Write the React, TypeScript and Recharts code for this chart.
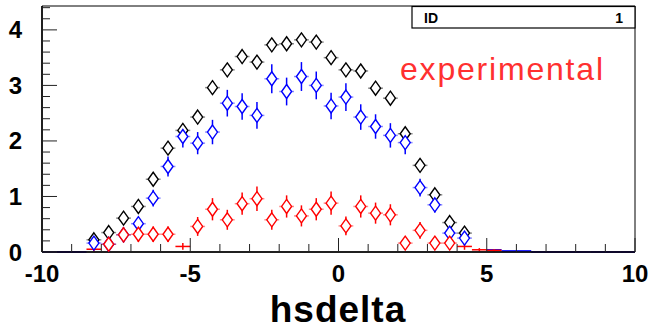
import { ErrorBar, ReferenceArea, Scatter, ScatterChart, XAxis, YAxis } from "recharts";

// bin centres, 0.5 wide
const binCentres = [
  -8.25, -7.75, -7.25, -6.75, -6.25, -5.75, -5.25, -4.75, -4.25, -3.75, -3.25, -2.75, -2.25,
  -1.75, -1.25, -0.75, -0.25, 0.25, 0.75, 1.25, 1.75, 2.25, 2.75, 3.25, 3.75, 4.25,
];
const blackValues = [
  0.22, 0.35, 0.61, 0.82, 1.31, 1.87, 2.19, 2.43, 2.96, 3.28, 3.52, 3.42, 3.73, 3.75, 3.82, 3.78,
  3.5, 3.28, 3.26, 2.95, 2.77, 2.13, 1.56, 1.03, 0.53, 0.34,
];
const blueValues = [
  0.16, 0.14, 0.31, 0.51, 0.97, 1.54, 2.08, 1.96, 2.16, 2.68, 2.62, 2.46, 3.12, 2.89, 3.16, 3.0,
  2.63, 2.79, 2.43, 2.26, 2.1, 1.97, 1.16, 0.85, 0.34, 0.25,
];
const blueErrors = [
  0.05, 0.05, 0.08, 0.1, 0.15, 0.18, 0.2, 0.2, 0.22, 0.24, 0.24, 0.24, 0.26, 0.25, 0.26, 0.25,
  0.24, 0.25, 0.23, 0.22, 0.22, 0.21, 0.16, 0.14, 0.08, 0.07,
];

const redCentres = [
  -7.75, -7.25, -6.75, -6.25, -5.75, -4.75, -4.25, -3.75, -3.25, -2.75, -2.25, -1.75, -1.25,
  -0.75, -0.25, 0.25, 0.75, 1.25, 1.75, 2.25, 2.75, 3.25, 3.75,
];
const redValues = [
  0.14, 0.31, 0.32, 0.32, 0.32, 0.46, 0.77, 0.58, 0.87, 0.96, 0.58, 0.82, 0.65, 0.77, 0.88, 0.47,
  0.82, 0.7, 0.67, 0.16, 0.39, 0.16, 0.16,
];
const redErrors = [
  0.1, 0.14, 0.14, 0.14, 0.14, 0.17, 0.2, 0.18, 0.2, 0.22, 0.18, 0.2, 0.19, 0.2, 0.21, 0.17, 0.2,
  0.19, 0.19, 0.1, 0.15, 0.1, 0.1,
];

// bins too low for a marker: only the error cross is drawn
const redLowCentres = [-8.25, -5.25, 4.25, 4.75, 5.25];
const redLowValues = [0.05, 0.1, 0.1, 0.04, 0.03];
const redLowErrors = [0.04, 0.06, 0.06, 0.03, 0.02];
const blueLowCentres = [5.25, 5.75, 6.25];
const blueLowValues = [0.04, 0.02, 0.02];

const emptyBins = [-9.75, -9.25, -8.75, 6.75, 7.25, 7.75, 8.25, 8.75, 9.25, 9.75];

const xTicks = [-10, -9, -8, -7, -6, -5, -4, -3, -2, -1, 0, 1, 2, 3, 4, 5, 6, 7, 8, 9, 10];
const yTicks = [
  0, 0.2, 0.4, 0.6, 0.8, 1, 1.2, 1.4, 1.6, 1.8, 2, 2.2, 2.4, 2.6, 2.8, 3, 3.2, 3.4, 3.6, 3.8, 4, 4.2,
  4.4,
];

const Y_MAX = 4.43;
const BIN_HALF = 0.25;
const FONT = "'Liberation Sans', Arial, sans-serif";

const points = (xs: number[], ys: number[], errs?: number[]) =>
  xs.map((x, i) => ({ x, y: ys[i], ey: errs ? errs[i] : 0, ex: BIN_HALF }));

const blackData = points(binCentres, blackValues);
const blueData = points(binCentres, blueValues, blueErrors);
const redData = points(redCentres, redValues, redErrors);
const redLowData = points(redLowCentres, redLowValues, redLowErrors);
const blueLowData = points(blueLowCentres, blueLowValues);
const emptyData = emptyBins.map((x) => ({ x, y: 0, ex: BIN_HALF }));

const diamond = (color: string) => (props: any) => {
  const { cx, cy } = props;
  if (cx == null || cy == null) return <g />;
  return (
    <path
      d={`M${cx},${cy - 7} L${cx + 5},${cy} L${cx},${cy + 7} L${cx - 5},${cy} Z`}
      fill="#fff"
      stroke={color}
      strokeWidth={1.4}
    />
  );
};

const noMarker = () => <g />;

function XTick({ x, y, payload }: any) {
  const major = payload.value % 5 === 0;
  return (
    <g>
      <line x1={x} x2={x} y1={y} y2={y - (major ? 14 : 8)} stroke="#222" strokeWidth={1} />
      {major && (
        <text x={x} y={y + 30} textAnchor="middle" fontFamily={FONT} fontWeight="bold" fontSize={24} fill="#000">
          {payload.value}
        </text>
      )}
    </g>
  );
}

function YTick({ x, y, payload }: any) {
  const major = Math.abs(payload.value - Math.round(payload.value)) < 1e-6;
  return (
    <g>
      <line x1={x} x2={x + (major ? 15 : 8)} y1={y} y2={y} stroke="#222" strokeWidth={1} />
      {major && (
        <text x={x - 20} y={y + 8.5} textAnchor="end" fontFamily={FONT} fontWeight="bold" fontSize={24} fill="#000">
          {Math.round(payload.value)}
        </text>
      )}
    </g>
  );
}

export default function App() {
  return (
    <div style={{ position: "absolute", left: 0, top: 0, width: 654, height: 330, background: "#fff" }}>
      <ScatterChart width={654} height={330} margin={{ top: 6, right: 19, bottom: 0, left: 0 }}>
        <XAxis
          type="number"
          dataKey="x"
          domain={[-10, 10]}
          ticks={xTicks}
          interval={0}
          height={78}
          tickSize={0}
          tickMargin={0}
          tickLine={false}
          tick={<XTick />}
          axisLine={{ stroke: "#000", strokeWidth: 1.5 }}
          allowDataOverflow
        />
        <YAxis
          type="number"
          dataKey="y"
          domain={[0, Y_MAX]}
          ticks={yTicks}
          interval={0}
          width={42}
          tickSize={0}
          tickMargin={0}
          tickLine={false}
          tick={<YTick />}
          axisLine={{ stroke: "#000", strokeWidth: 1.5 }}
          allowDataOverflow
        />
        <ReferenceArea x1={-10} x2={10} y1={0} y2={Y_MAX} fill="none" stroke="#000" strokeWidth={1} />

        <Scatter data={emptyData} shape={noMarker} isAnimationActive={false}>
          <ErrorBar dataKey="ex" direction="x" width={0} stroke="#3b22a8" strokeWidth={2} isAnimationActive={false} />
        </Scatter>

        <Scatter data={blackData} shape={diamond("#000")} isAnimationActive={false}>
          <ErrorBar dataKey="ex" direction="x" width={0} stroke="#000" strokeOpacity={0.45} isAnimationActive={false} />
        </Scatter>

        <Scatter data={blueLowData} shape={noMarker} isAnimationActive={false}>
          <ErrorBar dataKey="ex" direction="x" width={0} stroke="#0000ff" strokeWidth={1.5} isAnimationActive={false} />
        </Scatter>
        <Scatter data={blueData} shape={diamond("#0000ff")} isAnimationActive={false}>
          <ErrorBar dataKey="ey" direction="y" width={0} stroke="#0000ff" strokeWidth={1.5} isAnimationActive={false} />
          <ErrorBar dataKey="ex" direction="x" width={0} stroke="#0000ff" strokeOpacity={0.45} isAnimationActive={false} />
        </Scatter>

        <Scatter data={redLowData} shape={noMarker} isAnimationActive={false}>
          <ErrorBar dataKey="ey" direction="y" width={0} stroke="#ff0000" strokeWidth={1.5} isAnimationActive={false} />
          <ErrorBar dataKey="ex" direction="x" width={0} stroke="#ff0000" strokeWidth={1.5} isAnimationActive={false} />
        </Scatter>
        <Scatter data={redData} shape={diamond("#ff0000")} isAnimationActive={false}>
          <ErrorBar dataKey="ey" direction="y" width={0} stroke="#ff0000" strokeWidth={1.5} isAnimationActive={false} />
          <ErrorBar dataKey="ex" direction="x" width={0} stroke="#ff0000" strokeOpacity={0.45} isAnimationActive={false} />
        </Scatter>
      </ScatterChart>

      <svg width={654} height={330} style={{ position: "absolute", left: 0, top: 0, pointerEvents: "none" }}>
        <rect x={412} y={6.5} width={223} height={21.5} fill="#fff" stroke="#000" strokeWidth={1.2} />
        <text x={424} y={23} fontFamily={FONT} fontWeight="bold" fontSize={14}>
          ID
        </text>
        <text x={623} y={23} textAnchor="end" fontFamily={FONT} fontWeight="bold" fontSize={14}>
          1
        </text>
        <text x={400} y={80} fontFamily={FONT} fontSize={32} letterSpacing={1.8} fill="#ff3030">
          experimental
        </text>
        <text x={338} y={322} textAnchor="middle" fontFamily={FONT} fontWeight="bold" fontSize={37} letterSpacing={1}>
          hsdelta
        </text>
      </svg>
    </div>
  );
}
